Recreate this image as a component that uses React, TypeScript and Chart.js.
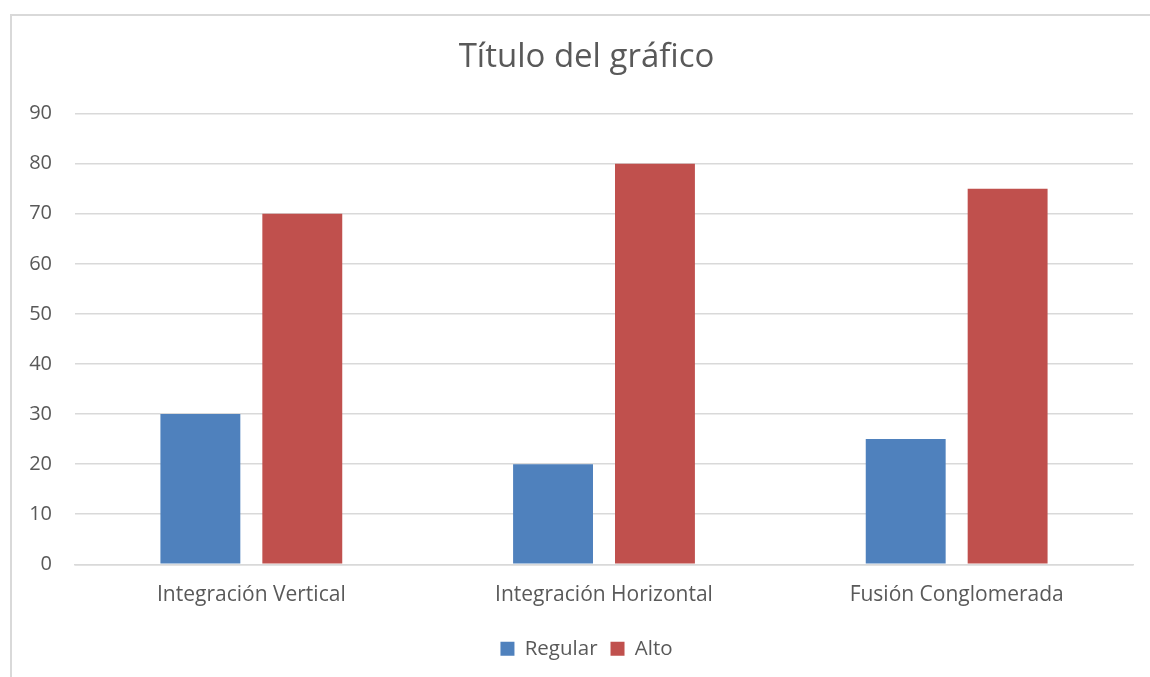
import React, { useEffect, useRef } from "react";
import { Chart, registerables } from "chart.js";
Chart.register(...registerables);

const categories = ["Integración Vertical", "Integración Horizontal", "Fusión Conglomerada"];
const seriesNames = ["Regular", "Alto"];
const regular = [30, 20, 25];
const alto = [70, 80, 75];
const titleText = "Título del gráfico";
const yMin = 0;
const yMax = 90;
const yStep = 10;

const FONT = "'Open Sans', 'Liberation Sans', sans-serif";
const TEXT = "#595959";
const GRID = "#d9d9d9";

const widenYLabelArea = {
  id: "widenYLabelArea",
  afterLayout(chart: any) {
    if (chart.scales.y) chart.scales.y.left = 0;
  },
};

export default function App() {
  const ref = useRef<HTMLCanvasElement | null>(null);
  useEffect(() => {
    if (!ref.current) return;
    const chart = new Chart(ref.current, {
      type: "bar",
      data: {
        labels: categories,
        datasets: [
          { label: seriesNames[0], data: regular, backgroundColor: "#4f81bd", barPercentage: 0.784, categoryPercentage: 0.578 },
          { label: seriesNames[1], data: alto, backgroundColor: "#c0504d", barPercentage: 0.784, categoryPercentage: 0.578 },
        ],
      },
      plugins: [widenYLabelArea],
      options: {
        responsive: false,
        animation: false,
        layout: { padding: { left: 40, right: 17, top: 0, bottom: 8 } },
        plugins: {
          title: {
            display: true,
            text: titleText,
            color: TEXT,
            font: { family: FONT, size: 33, weight: "normal" },
            padding: { top: 38, bottom: 36 },
          },
          legend: {
            position: "bottom",
            labels: {
              color: TEXT,
              font: { family: FONT, size: 20.5 },
              boxWidth: 14,
              boxHeight: 14,
              padding: 13,
            },
          },
          tooltip: { enabled: false },
        },
        scales: {
          x: {
            grid: { display: false, drawTicks: false },
            border: { color: GRID, width: 1.5 },
            ticks: { color: TEXT, font: { family: FONT, size: 21 }, padding: 18, maxRotation: 0 },
          },
          y: {
            min: yMin,
            max: yMax,
            afterFit: (s: any) => { s.width = 35; },
            grid: { color: GRID, lineWidth: 1.5, drawTicks: false },
            border: { display: false },
            ticks: { stepSize: yStep, color: TEXT, font: { family: FONT, size: 20 }, padding: 23 },
          },
        },
      },
    });
    return () => chart.destroy();
  }, []);
  return (
    <div style={{ position: "fixed", left: 0, top: 0, width: 1150, height: 677, overflow: "hidden", background: "#fff" }}>
      <div style={{ position: "absolute", left: 10, top: 14, width: 1200, height: 700, border: "2px solid #d9d9d9" }} />
      <canvas ref={ref} width={1150} height={677} style={{ position: "absolute", left: 0, top: 0 }} />
    </div>
  );
}
